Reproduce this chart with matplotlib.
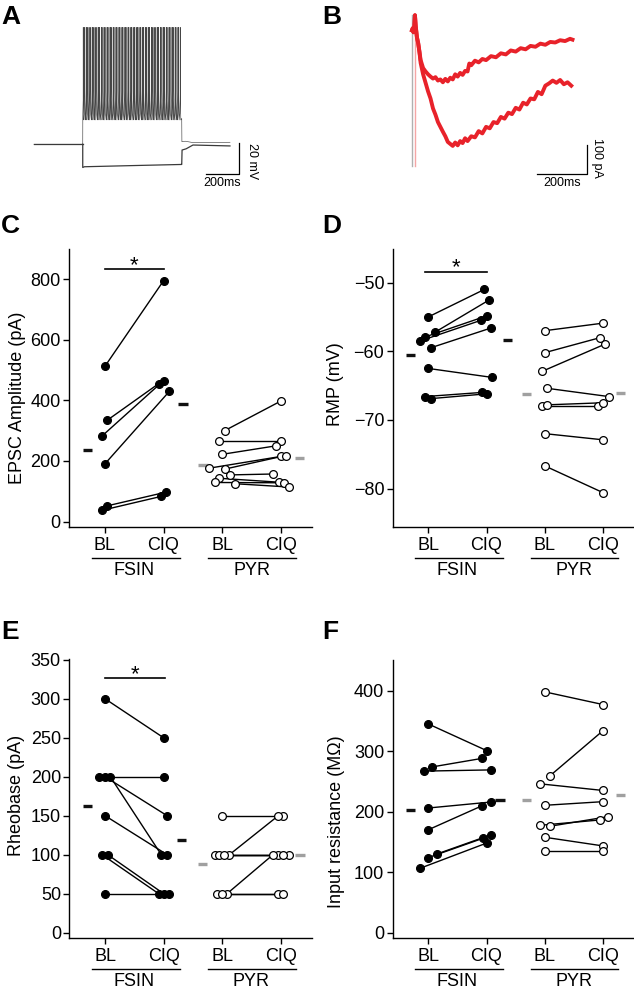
import numpy as np
import matplotlib
matplotlib.use("Agg")
import matplotlib.pyplot as plt
import matplotlib.transforms as mtransforms

plt.rcParams['font.family'] = ['Liberation Sans', 'DejaVu Sans']

# ---------------- data ----------------
conditions = ['BL', 'CIQ', 'BL', 'CIQ']
groups = ['FSIN', 'PYR']

# C: EPSC amplitude (pA)
c_fsin_bl = [512, 335, 282, 190, 52, 37]
c_fsin_ciq = [795, 455, 465, 430, 97, 83]
c_pyr_bl = [300, 265, 222, 176, 173, 154, 143, 129, 125]
c_pyr_ciq = [398, 265, 250, 215, 218, 157, 130, 128, 114]

# D: RMP (mV)
d_fsin_bl = [-55.0, -57.2, -57.9, -58.5, -59.5, -62.5, -66.6, -66.9]
d_fsin_ciq = [-51.0, -52.5, -54.85, -55.5, -56.6, -63.8, -66.0, -66.2]
d_pyr_bl = [-57.0, -60.2, -62.9, -65.4, -67.9, -67.8, -72.0, -76.7]
d_pyr_ciq = [-55.9, -58.0, -58.95, -66.6, -67.9, -67.5, -72.9, -80.6]

# E: rheobase (pA)
e_fsin_bl = [300, 200, 200, 200, 150, 100, 100, 50]
e_fsin_ciq = [250, 200, 150, 100, 100, 50, 50, 50]
e_pyr_bl = [150, 100, 100, 100, 100, 50, 50, 50]
e_pyr_ciq = [150, 150, 100, 100, 100, 100, 50, 50]

# F: input resistance (MOhm)
f_fsin_bl = [345, 274, 267, 206, 170, 124, 130, 106]
f_fsin_ciq = [301, 288, 269, 216, 210, 156, 162, 148]
f_pyr_bl = [398, 259, 246, 210.5, 177.4, 175.8, 157.6, 135]
f_pyr_ciq = [377, 334, 235, 216.5, 186.2, 191.7, 143.3, 135]

# horizontal scatter of overlapping points
c_jit = ([0, .045, -.05, 0, .045, -.05], [0, -.085, 0, .1, .04, -.04],
         [.04, -.05, 0, -.23, .04, .125, -.057, -.13, .21],
         [0, 0, -.085, 0, .08, -.13, -.04, .045, .14])
d_jit = ([0, .12, -.05, -.14, .04, 0, -.06, .04], [-.04, .05, 0, -.1, .08, .09, -.085, 0],
         [0, 0, -.04, .045, -.04, .045, 0, 0], [0, -.045, .035, .1, -.085, 0, 0, 0])
e_jit = ([0, -.095, 0, .09, 0, -.05, .045, 0], [0, 0, .06, -.04, .06, -.085, 0, .1],
         [0, .125, -.13, -.045, .04, .085, -.09, 0], [.045, -.04, .14, -.04, .045, -.13, -.04, .045])
f_jit = ([0, .07, -.075, 0, 0, 0, .15, -.15], [0, -.08, .075, .085, -.07, -.06, .085, 0],
         [0, .085, -.085, 0, -.085, .085, 0, 0], [0, 0, 0, 0, -.06, .085, 0, 0])

# A: current-clamp traces (ms, mV)
a_step_on, a_step_off, a_end = 290, 879, 1166
a_rest = -65
a_spike_times = [3, 12, 21, 30, 38, 48, 57, 66, 74, 84, 93, 101, 111, 120, 128, 138,
                 147, 156, 165, 173, 183, 192, 200, 210, 219, 228, 236, 246, 255, 263,
                 273, 282, 290, 300, 309, 318, 327, 335, 345, 354, 362, 372, 381, 390,
                 398, 408, 417, 425, 435, 444, 452, 462, 471, 480, 488, 498, 507, 515,
                 525, 534, 542, 552, 561, 570, 580]
a_spike_peak, a_spike_trough, a_spike_thresh = 12, -49, -36
a_hyper_t = [a_step_on, 300, 600, a_step_off - 1]
a_hyper_v = [-80.3, -79.8, -79.0, -78.3]
a_up_after_t = [a_step_off, 880, 900, 946, a_end]
a_up_after_v = [-48, -63.3, -63.0, -63.9, -63.7]
a_lo_after_t = [a_step_off, 881, 905, 946, a_end]
a_lo_after_v = [-78.3, -68.8, -68.0, -65.5, -66.1]

# B: voltage-clamp EPSCs (ms, pA)
b_start_t = [0, 3, 6, 9, 12, 15, 20, 25, 30]
b_start_i = [5, 12, -2, 8, 58, 20, -20, -40, -70]
b_small_t = [35, 45, 55, 65, 75, 85, 95, 105, 115, 125, 135, 145, 155, 165, 175, 185, 195,
             205, 215, 225, 232, 240, 255, 270, 285, 300, 320, 340, 360, 380, 400, 420,
             440, 460, 480, 500, 520, 540, 560, 580, 600, 620, 640, 650]
b_small_i = [-100, -128, -140, -150, -158, -165, -160, -172, -168, -178, -166, -175, -162,
             -168, -150, -158, -145, -152, -138, -140, -112, -118, -102, -108, -96, -100,
             -86, -90, -76, -80, -66, -70, -58, -62, -50, -53, -42, -46, -36, -38, -30,
             -33, -25, -28]
b_large_t = [35, 45, 55, 65, 75, 85, 95, 105, 115, 125, 135, 145, 155, 165, 175, 185, 195,
             205, 215, 225, 240, 255, 270, 285, 300, 315, 330, 345, 360, 375, 390, 405,
             420, 435, 450, 465, 480, 495, 510, 525, 540, 555, 570, 585, 600, 615, 630, 645]
b_large_i = [-110, -150, -180, -210, -235, -270, -292, -318, -335, -352, -368, -388, -395,
             -402, -390, -400, -385, -392, -375, -385, -368, -372, -350, -358, -335, -340,
             -318, -322, -300, -306, -285, -290, -268, -274, -250, -256, -235, -238, -212,
             -220, -190, -182, -172, -180, -170, -185, -178, -190]

W, H = 634, 991
fig = plt.figure(figsize=(W / 100, H / 100), dpi=100)


def px_axes(x0, y0, x1, y1):
    return fig.add_axes([x0 / W, 1 - y1 / H, (x1 - x0) / W, (y1 - y0) / H])


# ---------------- A ----------------
axA = px_axes(30, 20, 260, 195)
axA.set_xlim(-23.8, 1344.7)
axA.set_ylim(-98.4, 16.8)
axA.axis('off')
tr_col = '#3a3a3a'
ut, uv = [0, a_step_on], [a_rest, a_rest]
for s in a_spike_times:
    t = a_step_on + s
    ut += [t - 2.5, t - 0.4, t, t + 0.5, t + 1.5, t + 3.5]
    uv += [a_spike_trough + 4, a_spike_thresh, a_spike_peak, -30, a_spike_thresh, a_spike_trough]
ut += a_up_after_t
uv += a_up_after_v
axA.plot(ut, uv, color='#454545', lw=0.45)
axA.plot([a_step_on] + a_hyper_t + a_lo_after_t,
         [a_rest] + a_hyper_v + a_lo_after_v, color=tr_col, lw=0.9)
axA.plot([0, a_step_on], [a_rest, a_rest], color=tr_col, lw=0.9)
axA.plot([1021.6, 1221.6, 1221.6], [-84.3, -84.3, -64.3], color='black', lw=0.9)
axA.text(1121, -90.7, '200ms', ha='center', va='center', fontsize=9)
axA.text(1295, -76, '20 mV', ha='center', va='center', rotation=270, fontsize=9)

# ---------------- B ----------------
axB = px_axes(400, 10, 620, 190)
axB.set_xlim(-48.6, 842.4)
axB.set_ylim(-557.2, 76.4)
axB.axis('off')
axB.plot([-1.2, -1.2], [58.8, -471.7], color='#b0b0b0', lw=1)
axB.plot([12, 12], [58.8, -471.7], color='#f4a6a6', lw=1)
red = '#e8222a'
axB.plot(b_start_t + b_small_t, b_start_i + b_small_i, color=red, lw=2.8)
axB.plot(b_start_t + b_large_t, b_start_i + b_large_i, color=red, lw=2.8)
axB.plot([507.5, 707.6, 707.6], [-499.8, -499.8, -399.8], color='black', lw=0.9)
axB.text(607.5, -532.6, '200ms', ha='center', va='center', fontsize=9)
axB.text(749, -444.6, '100 pA', ha='center', va='center', rotation=270, fontsize=9)


# ---------------- scatter panels ----------------
def paired_panel(ax, fb, fc, pb, pc, jit, ylim, yticks, ylabel, lab_xy, mean_x, sig=None):
    pos = [1, 2, 3, 4]
    sets = [(fb, fc, jit[0], jit[1], 'black'), (pb, pc, jit[2], jit[3], 'white')]
    for k, (b, c, jb, jc, fcol) in enumerate(sets):
        xb = [pos[2 * k] + j for j in jb]
        xc = [pos[2 * k + 1] + j for j in jc]
        for i in range(len(b)):
            ax.plot([xb[i], xc[i]], [b[i], c[i]], color='black', lw=1.0, zorder=2)
        ax.plot(xb + xc, list(b) + list(c), 'o', ms=5.6, mfc=fcol, mec='black',
                mew=0.9, ls='none', zorder=3)
    means = [np.mean(fb), np.mean(fc), np.mean(pb), np.mean(pc)]
    cols = ['#111111', '#111111', '#a0a0a0', '#a0a0a0']
    for mx, m, col in zip(mean_x, means, cols):
        ax.plot([mx - 0.08, mx + 0.08], [m, m], color=col, lw=2.4, solid_capstyle='butt')
    if sig is not None:
        x0, x1, y = sig
        ax.plot([x0, x1], [y, y], color='black', lw=1.2)
        ax.annotate('*', xy=((x0 + x1) / 2, y), xytext=(0, -5), textcoords='offset points',
                    ha='center', va='bottom', fontsize=16)
    ax.set_xlim(0.39, 4.53)
    ax.set_ylim(*ylim)
    ax.set_yticks(yticks)
    ax.set_xticks(pos)
    ax.set_xticklabels(conditions)
    for s in ['top', 'right']:
        ax.spines[s].set_visible(False)
    for s in ['left', 'bottom']:
        ax.spines[s].set_linewidth(1.0)
    ax.tick_params(axis='both', labelsize=13, length=4, width=1.0, direction='out')
    ax.tick_params(axis='x', pad=3)
    ax.tick_params(axis='y', pad=2)
    ax.set_ylabel(ylabel, fontsize=13, va='center')
    ax.yaxis.set_label_coords(*lab_xy)
    trans = mtransforms.blended_transform_factory(ax.transData, ax.transAxes)
    for (a, b), g, gx in zip([(0.78, 2.28), (2.76, 4.26)], groups, [1.5, 3.5]):
        ax.plot([a, b], [-0.11, -0.11], color='black', lw=1.0, transform=trans, clip_on=False)
        ax.text(gx, -0.155, g, transform=trans, ha='center', va='center', fontsize=13)


axC = px_axes(69, 249, 312, 527)
paired_panel(axC, c_fsin_bl, c_fsin_ciq, c_pyr_bl, c_pyr_ciq, c_jit, (-18, 900),
             [0, 200, 400, 600, 800], 'EPSC Amplitude (pA)', (-0.21, 0.464),
             [0.70, 2.33, 2.67, 4.32], sig=(1.0, 2.0, 834))

axD = px_axes(392.7, 249, 634, 527)
paired_panel(axD, d_fsin_bl, d_fsin_ciq, d_pyr_bl, d_pyr_ciq, d_jit, (-85.6, -45.1),
             [-80, -70, -60, -50], 'RMP (mV)', (-0.239, 0.514),
             [0.70, 2.36, 2.69, 4.30], sig=(0.95, 2.0, -48.4))

axE = px_axes(69.3, 659, 311.7, 938.3)
paired_panel(axE, e_fsin_bl, e_fsin_ciq, e_pyr_bl, e_pyr_ciq, e_jit, (-7.3, 351),
             list(range(0, 351, 50)), 'Rheobase (pA)', (-0.217, 0.51),
             [0.70, 2.31, 2.66, 4.33], sig=(1.0, 2.03, 326))

axF = px_axes(392.7, 660, 634, 938.3)
paired_panel(axF, f_fsin_bl, f_fsin_ciq, f_pyr_bl, f_pyr_ciq, f_jit, (-9.4, 450.7),
             [0, 100, 200, 300, 400], 'Input resistance (M\u03a9)', (-0.232, 0.419),
             [0.70, 2.23, 2.69, 4.30])

for letter, x, y in [('A', 1, 5), ('B', 322, 5), ('C', 1, 214), ('D', 322, 214),
                     ('E', 1, 620), ('F', 322, 620)]:
    fig.text(x / W, 1 - y / H, letter, fontsize=19, fontweight='bold', ha='left', va='top')

fig.savefig('out.png', dpi=100)
